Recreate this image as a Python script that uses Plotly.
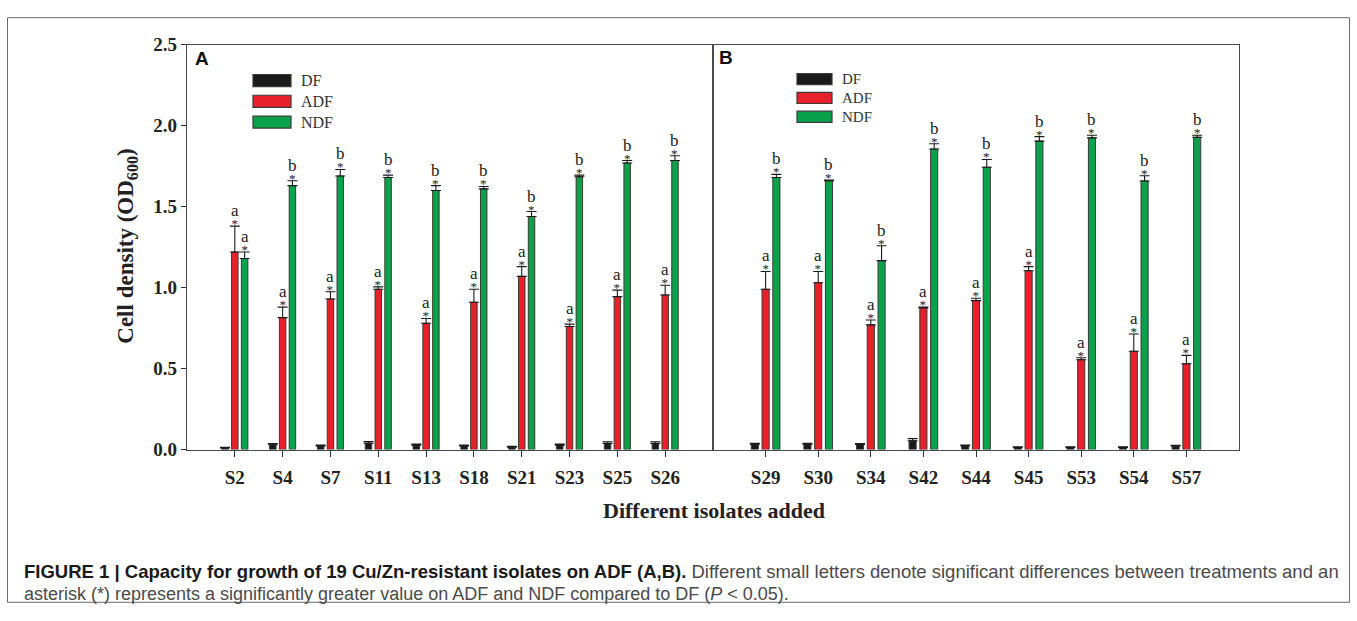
import plotly.graph_objects as go

W, H = 1357, 621

# ---------------- data ----------------
cats_a = ["S2", "S4", "S7", "S11", "S13", "S18", "S21", "S23", "S25", "S26"]
df_a = [0.010, 0.030, 0.022, 0.040, 0.028, 0.022, 0.015, 0.028, 0.038, 0.038]
df_a_err = [0.005, 0.008, 0.006, 0.010, 0.006, 0.006, 0.005, 0.007, 0.010, 0.010]
adf_a = [1.22, 0.815, 0.93, 0.99, 0.78, 0.91, 1.07, 0.76, 0.945, 0.955]
adf_a_err = [0.16, 0.065, 0.045, 0.015, 0.03, 0.08, 0.06, 0.015, 0.04, 0.06]
ndf_a = [1.18, 1.63, 1.69, 1.68, 1.60, 1.61, 1.44, 1.685, 1.77, 1.785]
ndf_a_err = [0.04, 0.03, 0.04, 0.015, 0.03, 0.015, 0.03, 0.01, 0.015, 0.03]
sig_adf_a = ["a", "a", "a", "a", "a", "a", "a", "a", "a", "a"]
sig_ndf_a = ["a", "b", "b", "b", "b", "b", "b", "b", "b", "b"]

cats_b = ["S29", "S30", "S34", "S42", "S44", "S45", "S53", "S54", "S57"]
df_b = [0.034, 0.034, 0.032, 0.055, 0.024, 0.014, 0.014, 0.014, 0.022]
df_b_err = [0.005, 0.005, 0.005, 0.013, 0.004, 0.003, 0.003, 0.003, 0.004]
adf_b = [0.99, 1.03, 0.77, 0.875, 0.92, 1.105, 0.555, 0.607, 0.53]
adf_b_err = [0.11, 0.07, 0.03, 0.006, 0.015, 0.025, 0.012, 0.107, 0.052]
ndf_b = [1.68, 1.66, 1.167, 1.856, 1.744, 1.905, 1.925, 1.659, 1.929]
ndf_b_err = [0.02, 0.005, 0.092, 0.033, 0.048, 0.028, 0.016, 0.032, 0.012]
sig_adf_b = ["a"] * 9
sig_ndf_b = ["b"] * 9

series_names = ["DF", "ADF", "NDF"]
y_ticks = [0.0, 0.5, 1.0, 1.5, 2.0, 2.5]

# ---------------- styles ----------------
COL = {"DF": "#1a1a1a", "ADF": "#e8202a", "NDF": "#0aa14b"}
OUTLINE = "#3a3a3a"
SERIF = "Liberation Serif"
SANS = "Liberation Sans"
BARGAP = 0.385
BARGROUPGAP = 0.34
SLOT = (1 - BARGAP) / 3.0


def px(x):
    return x / W


def py(y):
    return 1 - y / H


fig = go.Figure()

panels = [
    ("x", "y", cats_a, [(df_a, df_a_err), (adf_a, adf_a_err), (ndf_a, ndf_a_err)], sig_adf_a, sig_ndf_a),
    ("x2", "y2", cats_b, [(df_b, df_b_err), (adf_b, adf_b_err), (ndf_b, ndf_b_err)], sig_adf_b, sig_ndf_b),
]

annotations = []
for xa, ya, cats, data, sig_adf, sig_ndf in panels:
    for name, (vals, errs) in zip(series_names, data):
        fig.add_trace(go.Bar(
            x=cats, y=vals, name=name, xaxis=xa, yaxis=ya,
            marker=dict(color=COL[name], line=dict(color=OUTLINE, width=1)),
            error_y=dict(type="data", array=errs, symmetric=False,
                         arrayminus=[0] * len(errs), color="#1a1a1a",
                         thickness=1.1, width=5),
            showlegend=False,
        ))
    # significance letter stacked over an asterisk, one text per bar
    for k, (vals, errs, sigs) in enumerate([(data[1][0], data[1][1], sig_adf),
                                             (data[2][0], data[2][1], sig_ndf)]):
        off = 0.0 if k == 0 else SLOT
        for i, (v, e, s) in enumerate(zip(vals, errs, sigs)):
            top = v + e
            txt = ("<span style='font-size:17px'>%s</span><br>"
                   "<span style='font-size:13px'>*</span>" % s)
            annotations.append(dict(x=i + off, y=top, xref=xa, yref=ya, text=txt,
                                    showarrow=False, yanchor="bottom", yshift=-7,
                                    font=dict(family=SERIF, size=9.5, color="#222")))

ydom = [py(455), py(36)]
axis_common = dict(showline=True, linecolor="#4a4a4a", linewidth=1.2, mirror=True,
                   showgrid=False, zeroline=False)
tick_font = dict(family=SERIF, size=19, color="#222", weight="bold")
fig.update_layout(
    width=W, height=H,
    margin=dict(l=0, r=0, t=0, b=0, pad=0),
    paper_bgcolor="white", plot_bgcolor="white",
    barmode="group", bargap=BARGAP, bargroupgap=BARGROUPGAP,
    xaxis=dict(domain=[px(187), px(713)], type="category", range=[-1, len(cats_a)],
               anchor="y", ticks="outside", ticklen=6, tickcolor="#333",
               tickfont=tick_font, ticklabelstandoff=4, **axis_common),
    yaxis=dict(domain=ydom, range=[0, 2.5], anchor="x", tickvals=y_ticks,
               tickformat=".1f", ticks="outside", ticklen=5, tickcolor="#333",
               tickfont=tick_font, **axis_common),
    xaxis2=dict(domain=[px(713), px(1239)], type="category", range=[-1, len(cats_b)],
                anchor="y2", ticks="outside", ticklen=6, tickcolor="#333",
                tickfont=tick_font, ticklabelstandoff=4, **axis_common),
    yaxis2=dict(domain=ydom, range=[0, 2.5], anchor="x2", showticklabels=False,
                ticks="", **axis_common),
)

annotations.append(dict(x=px(193), y=py(50), xref="paper", yref="paper", text="<b>A</b>",
                        showarrow=False, xanchor="left", yanchor="middle",
                        font=dict(family=SANS, size=19, color="#111")))
annotations.append(dict(x=px(717), y=py(49), xref="paper", yref="paper", text="<b>B</b>",
                        showarrow=False, xanchor="left", yanchor="middle",
                        font=dict(family=SANS, size=19, color="#111")))

annotations.append(dict(x=px(127), y=py(245), xref="paper", yref="paper",
                        text="<b>Cell density (OD<sub>600</sub>)</b>", textangle=-90,
                        showarrow=False, xanchor="center", yanchor="middle",
                        font=dict(family=SERIF, size=23, color="#222")))
annotations.append(dict(x=px(714), y=py(518), xref="paper", yref="paper",
                        text="<b>Different isolates added</b>",
                        showarrow=False, xanchor="center", yanchor="middle",
                        font=dict(family=SERIF, size=22, color="#222")))

shapes = []
legend_specs = [
    (253, 291, 299, [73, 94.5, 116], 12.5, 16),
    (797, 832, 840, [71.5, 91, 110.5], 11.5, 15),
]
for x0, x1, xt, rows, hgt, fs in legend_specs:
    for name, yc in zip(series_names, rows):
        shapes.append(dict(type="rect", xref="paper", yref="paper",
                           x0=px(x0), x1=px(x1), y0=py(yc + hgt / 2), y1=py(yc - hgt / 2),
                           fillcolor=COL[name], line=dict(color=OUTLINE, width=1.2)))
        annotations.append(dict(x=px(xt), y=py(yc), xref="paper", yref="paper", text=name,
                                showarrow=False, xanchor="left", yanchor="middle",
                                font=dict(family=SERIF, size=fs, color="#333")))

shapes.append(dict(type="rect", xref="paper", yref="paper",
                   x0=px(7.5), x1=px(1349.5), y0=py(613), y1=py(8),
                   line=dict(color="#6a6a6a", width=1), fillcolor="rgba(0,0,0,0)"))

cap1 = ("<b>FIGURE 1 | Capacity for growth of 19 Cu/Zn-resistant isolates on ADF (A,B).</b> "
        "<span style='color:#4a4a4a'>Different small letters denote significant differences "
        "between treatments and an</span>")
cap2 = ("asterisk (*) represents a significantly greater value on ADF and NDF compared to DF "
        "(<i>P</i> &lt; 0.05).")
annotations.append(dict(x=px(22), y=py(581), xref="paper", yref="paper", text=cap1,
                        showarrow=False, xanchor="left", yanchor="middle",
                        font=dict(family=SANS, size=18.5, color="#1a1a1a")))
annotations.append(dict(x=px(22), y=py(604), xref="paper", yref="paper", text=cap2,
                        showarrow=False, xanchor="left", yanchor="middle",
                        font=dict(family=SANS, size=18, color="#4a4a4a")))

fig.update_layout(annotations=annotations, shapes=shapes)

post = ("document.documentElement.style.margin='0';document.body.style.margin='0';"
        "document.body.style.overflow='hidden';"
        "var g=document.getElementById('{plot_id}');"
        "g.style.position='fixed';g.style.left='0px';g.style.top='0px';")
fig.write_html("out.html", post_script=post, config={"displayModeBar": False})
